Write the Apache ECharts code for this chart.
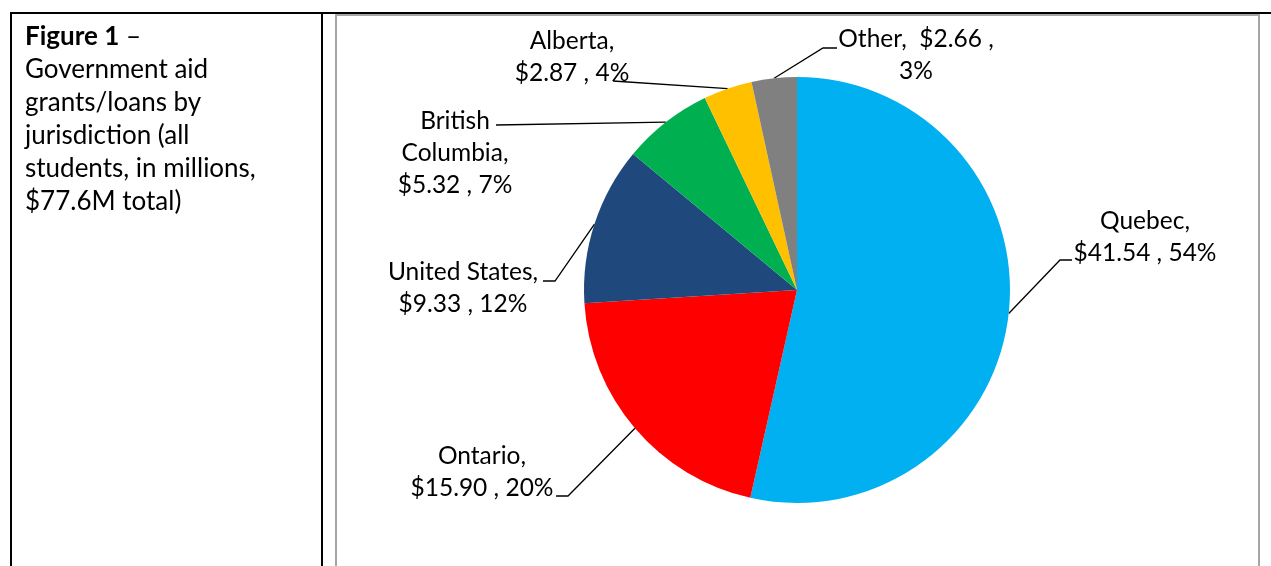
<!DOCTYPE html>
<html>
<head>
<meta charset="utf-8">
<script src="https://cdn.jsdelivr.net/npm/echarts@6/dist/echarts.min.js"></script>
<style>
  html, body { margin: 0; padding: 0; background: #fff; }
  #chart { width: 1271px; height: 566px; }
</style>
</head>
<body>
<div id="chart"></div>
<script>
// jurisdictions and amounts (in millions of $)
var jurisdictions = ['Quebec', 'Ontario', 'United States', 'British Columbia', 'Alberta', 'Other']
var amounts = [41.54, 15.90, 9.33, 5.32, 2.87, 2.66]
var sliceColors = ['#00B0F0', '#FF0000', '#1F497D', '#00B050', '#FFC000', '#808080']

// where each label sits and where its leader line ends (layout only)
var labelSpots = [
  { x: 1145, y: 237, endX: 1072, endY: 260, elbow: -12 },
  { x: 482, y: 472, endX: 556, endY: 496, elbow: 12 },
  { x: 463, y: 288, endX: 543, endY: 281, elbow: 12 },
  { x: 455, y: 153, endX: 496, endY: 125, elbow: 0 },
  { x: 572, y: 57, endX: 613, endY: 81, elbow: 0 },
  { x: 916, y: 55, endX: 837, endY: 48, elbow: -14 }
]

var FONT = 'Lato'

function labelText(p) {
  var v = '$' + p.value.toFixed(2)
  var pct = p.percent + '%'
  if (p.name === 'Other') {
    return p.name + ',  ' + v + ' ,\n' + pct // 换行位置不同
  }
  var name = p.name === 'British Columbia' ? 'British\nColumbia' : p.name
  return name + ',\n' + v + ' , ' + pct
}

var chart = echarts.init(document.getElementById('chart'))
var option = {
  animation: false,
  backgroundColor: '#fff',
  graphic: [
    // table borders
    { type: 'line', shape: { x1: 10, y1: 13, x2: 1271, y2: 13 }, style: { stroke: '#000', lineWidth: 2 } },
    { type: 'line', shape: { x1: 11, y1: 12, x2: 11, y2: 566 }, style: { stroke: '#000', lineWidth: 2 } },
    { type: 'line', shape: { x1: 322, y1: 12, x2: 322, y2: 566 }, style: { stroke: '#000', lineWidth: 2 } },
    // chart frame
    { type: 'polyline', shape: { points: [[336, 566], [336, 15], [1259, 15], [1259, 566]] }, style: { stroke: '#A6A6A6', lineWidth: 2, fill: null } },
    {
      type: 'text',
      left: 25,
      top: 20,
      style: {
        text: '{b|Figure 1} –\nGovernment aid\ngrants/loans by\njurisdiction (all\nstudents, in millions,\n$77.6M total)',
        font: '26px ' + FONT,
        fill: '#000',
        lineHeight: 33,
        rich: {
          b: { fontWeight: 'bold', fontSize: 26, fontFamily: FONT, lineHeight: 33, fill: '#000' }
        }
      }
    }
  ],
  series: [
    {
      type: 'pie',
      center: [797, 290],
      radius: 213,
      startAngle: 90,
      clockwise: true,
      percentPrecision: 0,
      avoidLabelOverlap: false,
      itemStyle: { borderWidth: 0 },
      label: {
        show: true,
        position: 'outside',
        formatter: labelText,
        color: '#000',
        fontFamily: FONT,
        fontSize: 24.5,
        lineHeight: 32,
        align: 'center'
      },
      labelLine: {
        show: true,
        lineStyle: { color: '#000', width: 1.3 }
      },
      labelLayout: function (params) {
        var s = labelSpots[params.dataIndex]
        var start = params.labelLinePoints ? params.labelLinePoints[0] : [s.endX, s.endY]
        return {
          x: s.x,
          y: s.y,
          align: 'center',
          verticalAlign: 'middle',
          labelLinePoints: [start, [s.endX + s.elbow, s.endY], [s.endX, s.endY]]
        }
      },
      emphasis: { disabled: true },
      data: jurisdictions.map(function (name, i) {
        return { name: name, value: amounts[i], itemStyle: { color: sliceColors[i] } }
      })
    }
  ]
}
chart.setOption(option)
window.addEventListener('resize', function () {
  chart.resize()
})
</script>
</body>
</html>
